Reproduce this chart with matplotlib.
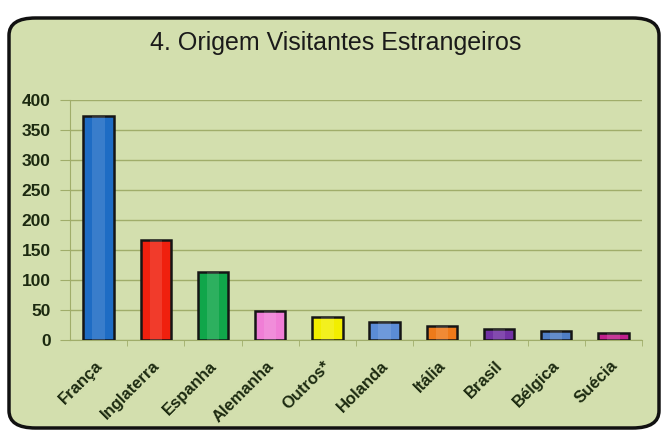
import matplotlib
matplotlib.use("Agg")
import matplotlib.pyplot as plt
import matplotlib.transforms as mtransforms
from matplotlib.patches import FancyBboxPatch

categories = ["França", "Inglaterra", "Espanha", "Alemanha", "Outros*",
              "Holanda", "Itália", "Brasil", "Bélgica", "Suécia"]
values = [373, 167, 113, 49, 39, 30, 23, 18, 15, 12]
colors = ["#1e6cc4", "#f0200e", "#10a64a", "#f07ed6", "#f2ee00",
          "#5b8cd6", "#ee7a1a", "#7232a4", "#4f7ec6", "#c0208c"]
yticks = [0, 50, 100, 150, 200, 250, 300, 350, 400]
title = "4. Origem Visitantes Estrangeiros"

plt.rcParams['font.family'] = ['Liberation Sans', 'DejaVu Sans']

fig = plt.figure(figsize=(6.61, 4.32), dpi=100)
fig.patch.set_facecolor("white")

W, H = 661, 432
box = FancyBboxPatch((9 / W, 4 / H), (W - 2 - 9) / W, (H - 18 - 4) / H,
                     boxstyle="round,pad=0,rounding_size=0.04",
                     transform=fig.transFigure, facecolor="#d3dfae",
                     edgecolor="#111111", linewidth=2.5, zorder=-10)
fig.patches.append(box)

ax = fig.add_axes([70 / W, (H - 340) / H, (642 - 70) / W, 240 / H])
ax.set_zorder(5)
ax.set_facecolor("none")

grid_c = "#a0ad6a"
x = list(range(len(categories)))
ax.bar(x, values, width=0.53, color=colors, edgecolor="#151515",
       linewidth=1.8, zorder=3)
# subtle highlight to mimic bevel
ax.bar(x, values, width=0.22, color="white", alpha=0.12,
       linewidth=0, zorder=4)

ax.set_xlim(-0.5, len(categories) - 0.5)
ax.set_ylim(0, 400)
ax.set_yticks(yticks)
ax.set_yticklabels([str(t) for t in yticks], fontsize=12.5, fontweight="bold",
                   color="#1c2a10")
ax.yaxis.grid(True, color=grid_c, linewidth=1.0, zorder=0)
ax.set_axisbelow(True)

ax.set_xticks(x)
ax.set_xticklabels(categories, rotation=45, ha="right", rotation_mode="anchor",
                   fontsize=12, fontweight="bold", color="#1c2a10")
ax.tick_params(axis="x", length=0, pad=13)
offset = mtransforms.ScaledTranslation(-4 / 100, 0, fig.dpi_scale_trans)
for lbl in ax.get_xticklabels():
    lbl.set_transform(lbl.get_transform() + offset)
ax.set_xticks([i + 0.5 for i in range(len(categories))], minor=True)
ax.tick_params(axis="x", which="minor", length=4, color=grid_c, direction="out")
ax.tick_params(axis="y", length=7, color=grid_c, pad=7)

for s in ["top", "right"]:
    ax.spines[s].set_visible(False)
ax.spines["left"].set_color(grid_c)
ax.spines["bottom"].set_color(grid_c)

fig.text(336 / W, 1 - 43 / H, title, ha="center", va="center",
         fontsize=18, color="#1a1a1a")

fig.savefig("out.png", dpi=100, facecolor="white")
